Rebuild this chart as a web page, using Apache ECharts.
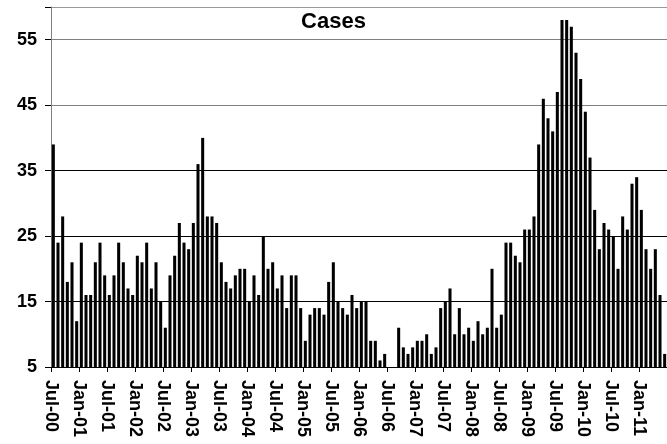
<!DOCTYPE html>
<html>
<head>
<meta charset="utf-8">
<script src="https://cdn.jsdelivr.net/npm/echarts@6/dist/echarts.min.js"></script>
<style>
  html, body { margin: 0; padding: 0; background: #fff; }
  #chart { width: 667px; height: 444px; }
</style>
</head>
<body>
<div id="chart"></div>
<script>
// monthly cases, Jul-00 .. Jun-11 (values below 5 sit under the axis floor)
const caseCounts = [
  39, 24, 28, 18, 21, 12, 24, 16, 16, 21, 24, 19,
  16, 19, 24, 21, 17, 16, 22, 21, 24, 17, 21, 15,
  11, 19, 22, 27, 24, 23, 27, 36, 40, 28, 28, 27,
  21, 18, 17, 19, 20, 20, 15, 19, 16, 25, 20, 21,
  17, 19, 14, 19, 19, 14, 9, 13, 14, 14, 13, 18,
  21, 15, 14, 13, 16, 14, 15, 15, 9, 9, 6, 7,
  4, 4, 11, 8, 7, 8, 9, 9, 10, 7, 8, 14,
  15, 17, 10, 14, 10, 11, 9, 12, 10, 11, 20, 11,
  13, 24, 24, 22, 21, 26, 26, 28, 39, 46, 43, 41,
  47, 58, 58, 57, 53, 49, 44, 37, 29, 23, 27, 26,
  25, 20, 28, 26, 33, 34, 29, 23, 20, 23, 16, 7
]
const xTickLabels = [
  'Jul-00', 'Jan-01', 'Jul-01', 'Jan-02', 'Jul-02', 'Jan-03', 'Jul-03', 'Jan-04',
  'Jul-04', 'Jan-05', 'Jul-05', 'Jan-06', 'Jul-06', 'Jan-07', 'Jul-07', 'Jan-08',
  'Jul-08', 'Jan-09', 'Jul-09', 'Jan-10', 'Jul-10', 'Jan-11'
]
const yTicks = [5, 15, 25, 35, 45, 55]

// month names for the bar categories
const monthNames = ['Jan', 'Feb', 'Mar', 'Apr', 'May', 'Jun', 'Jul', 'Aug', 'Sep', 'Oct', 'Nov', 'Dec']
const months = caseCounts.map((v, i) => {
  const m = (6 + i) % 12
  const y = Math.floor((6 + i) / 12)
  return monthNames[m] + '-' + String(y).padStart(2, '0')
})
// boundaries between months, labelled every 6 months
const boundaries = []
for (let i = 0; i <= months.length; i++) {
  boundaries.push(i % 6 === 0 && xTickLabels[i / 6] ? xTickLabels[i / 6] : '')
}

const font = 'Arial, "Liberation Sans", sans-serif'
const chart = echarts.init(document.getElementById('chart'))
chart.setOption({
  animation: false,
  title: {
    text: 'Cases',
    left: 'center',
    top: 6,
    textStyle: { fontFamily: font, fontSize: 22, fontWeight: 'bold', color: '#000' }
  },
  grid: { left: 51, right: 0, top: 7, bottom: 77 },
  xAxis: [
    {
      type: 'category',
      data: months,
      axisLine: { lineStyle: { color: '#000', width: 1 } },
      axisTick: { show: false },
      axisLabel: { show: false }
    },
    {
      type: 'category',
      data: boundaries,
      boundaryGap: false,
      position: 'bottom',
      axisLine: { show: false },
      axisTick: { show: true, interval: 5, length: 5, lineStyle: { color: '#000' } },
      axisLabel: {
        interval: 5,
        rotate: -90,
        margin: 13,
        fontFamily: font,
        fontSize: 18,
        fontWeight: 'bold',
        color: '#000'
      }
    }
  ],
  yAxis: {
    type: 'value',
    min: 5,
    max: 60,
    interval: 10,
    axisLine: { show: true, lineStyle: { color: '#808080' } },
    axisTick: { show: true, length: 6, lineStyle: { color: '#000' } },
    axisLabel: {
      margin: 14,
      fontFamily: font,
      fontSize: 18,
      fontWeight: 'bold',
      color: '#000',
      formatter: v => (yTicks.indexOf(v) >= 0 ? String(v) : '')
    },
    splitLine: {
      show: true,
      lineStyle: { color: ['#000', '#000', '#000', '#000', '#808080', '#808080', '#999'], width: 1 }
    }
  },
  series: [
    {
      name: 'Cases',
      type: 'bar',
      xAxisIndex: 0,
      data: caseCounts,
      barCategoryGap: '35%',
      itemStyle: { color: '#000' }
    }
  ]
})
</script>
</body>
</html>
